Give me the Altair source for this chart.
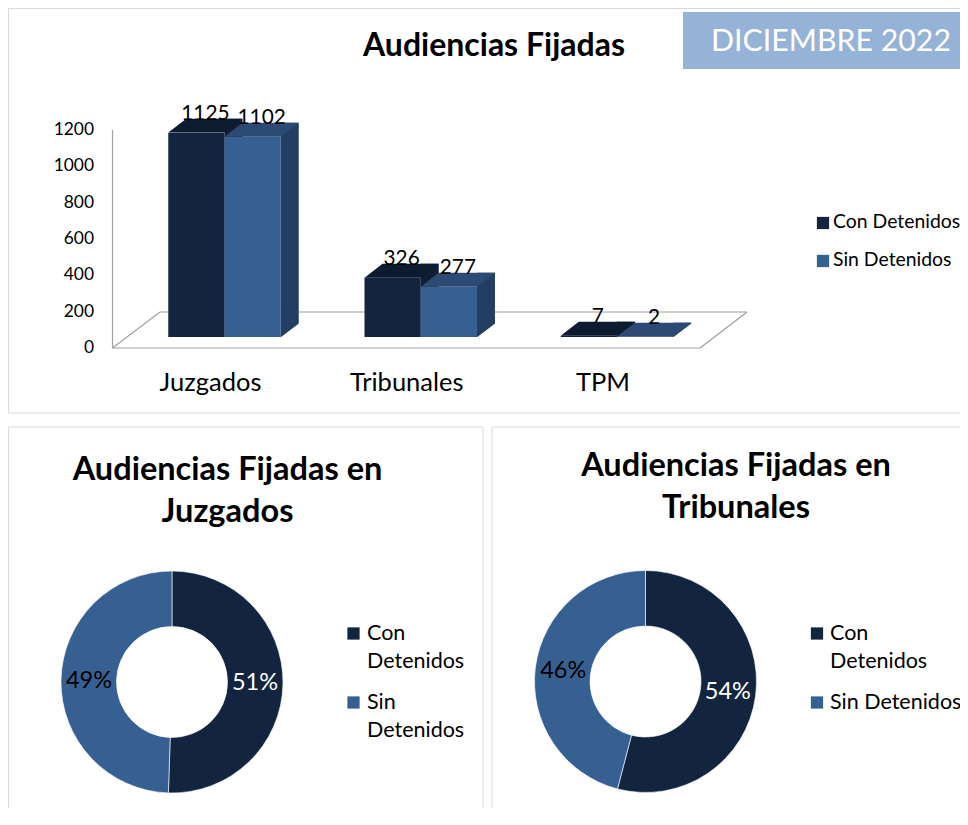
import altair as alt
import pandas as pd

# ---------------- data ----------------
categories = ["Juzgados", "Tribunales", "TPM"]
series_names = ["Con Detenidos", "Sin Detenidos"]
con_values = [1125, 326, 7]
sin_values = [1102, 277, 2]
y_ticks = [0, 200, 400, 600, 800, 1000, 1200]
main_title = "Audiencias Fijadas"
badge_text = "DICIEMBRE 2022"
donut_title_lines = [["Audiencias Fijadas en", "Juzgados"],
                     ["Audiencias Fijadas en", "Tribunales"]]

# ---------------- styles ----------------
FONT = "Lato"
front_colors = ["#13243F", "#376092"]
top_colors = ["#0D1B31", "#2C4B74"]
side_colors = ["#0F1E35", "#233E60"]
border_col = "#D9D9D9"
floor_col = "#A0A0A0"

rows = []
for i, c in enumerate(categories):
    rows.append({"cat": c, "series": series_names[0], "value": con_values[i]})
    rows.append({"cat": c, "series": series_names[1], "value": sin_values[i]})
bars = pd.DataFrame(rows)

X0, X1 = 118.4, 707.1
STEP = (X1 - X0) / 3
W = STEP * (1 - 0.4268) / 2        # width of one front face
D, E, BASE = 18, 14, -11           # depth offsets of the 3D look

xscale = alt.Scale(domain=categories, range=[X0, X1], paddingInner=0.4268, paddingOuter=0.2134)
yscale = alt.Scale(domain=[0, 1200], range=[340, 122], nice=False, zero=True)
offscale = alt.Scale(domain=series_names)
cscale = alt.Scale(domain=series_names, range=front_colors)

XENC = alt.X("cat:N", scale=xscale, axis=None)
YENC = alt.Y("value:Q", scale=yscale, axis=None)
OFFENC = alt.XOffset("series:N", scale=offscale)


def txt(s, x, y, size, weight="normal", color="black", align="left", baseline="middle"):
    return alt.Chart(pd.DataFrame({"t": [s]})).mark_text(
        font=FONT, fontSize=size, fontWeight=weight, color=color, align=align, baseline=baseline
    ).encode(text="t:N", x=alt.value(x), y=alt.value(y))


def box(x, x2, y, y2, fill=None, stroke=None):
    kw = {}
    if fill:
        kw["fill"] = fill
    else:
        kw["fillOpacity"] = 0
    if stroke:
        kw["stroke"] = stroke
        kw["strokeWidth"] = 1
    return alt.Chart(pd.DataFrame({"a": [0]})).mark_rect(**kw).encode(
        x=alt.value(x), x2=alt.value(x2), y=alt.value(y), y2=alt.value(y2))


def line(x, x2, y, y2, color=floor_col, w=1.2):
    return alt.Chart(pd.DataFrame({"a": [0]})).mark_rule(color=color, strokeWidth=w).encode(
        x=alt.value(x), x2=alt.value(x2), y=alt.value(y), y2=alt.value(y2))


def fmt(v):
    return f"{v:.3f}"


# parallelogram top face path (unit box -1..1), size S^2
S_TOP = 76
h = S_TOP / 2
top_path = ("M {} {} L {} {} L {} {} L {} {} Z".format(
    fmt((-W / 2 - D / 2) / h), fmt((E / 2) / h),
    fmt((W / 2 - D / 2) / h), fmt((E / 2) / h),
    fmt((W / 2 + D / 2) / h), fmt((-E / 2) / h),
    fmt((-W / 2 + D / 2) / h), fmt((-E / 2) / h)))
S_MASK = 20
hm = S_MASK / 2
mask_path = "M {} {} L {} {} L {} {} Z".format(
    fmt(-D / 2 / hm), fmt(E / 2 / hm + 0.03), fmt(D / 2 / hm + 0.08), fmt(E / 2 / hm + 0.03),
    fmt(D / 2 / hm + 0.08), fmt(-E / 2 / hm))

layers = []

# panel borders
layers.append(box(0.5, 990, 0.5, 405, stroke=border_col))
layers.append(box(0.5, 475, 419, 990, stroke=border_col))
layers.append(box(484, 990, 419, 990, stroke=border_col))

# badge
layers.append(box(675, 990, 4, 61, fill="#95B3D7"))
layers.append(txt(badge_text, 823, 34, 30.3, color="white", align="center"))

# main title
layers.append(txt(main_title, 486, 38, 32, weight="bold", align="center"))

# floor and wall
layers.append(line(104.5, 104.5, 122, 340))
layers.append(line(104.5, 692, 340, 340))
layers.append(line(152, 739, 304, 304))
layers.append(line(104.5, 152, 340, 304))
layers.append(line(692, 739, 340, 304))

# tick labels
layers.append(alt.Chart(pd.DataFrame({"t": y_ticks})).mark_text(
    font=FONT, fontSize=17.4, align="right", baseline="middle", color="black"
).encode(y=alt.Y("t:Q", scale=yscale, axis=None), x=alt.value(86), text="t:Q"))

# 3D bars
for k, s in enumerate(series_names):
    shift = (k - 0.5) * W
    src = alt.Chart(bars).transform_filter(alt.datum.series == s)
    # side face (a thick rule beside the front face)
    layers.append(src.mark_rule(strokeWidth=D, strokeCap="butt", xOffset=shift + W / 2 + D / 2,
                                yOffset=BASE - E, y2Offset=BASE, color=side_colors[k]
                                ).encode(x=XENC, y=YENC, y2=alt.datum(0)))
    layers.append(src.mark_point(shape=mask_path, size=S_MASK ** 2, filled=True, opacity=1,
                                 color="white", xOffset=shift + W / 2 + D / 2, yOffset=BASE - E / 2
                                 ).encode(x=XENC, y=alt.Y(datum=0, scale=yscale, axis=None)))
    layers.append(src.mark_bar(yOffset=BASE, y2Offset=BASE, color=front_colors[k]).encode(
        x=XENC, xOffset=OFFENC, y=YENC, y2=alt.datum(0)))
    layers.append(src.mark_point(shape=top_path, size=S_TOP ** 2, filled=True, opacity=1,
                                 color=top_colors[k], xOffset=shift + D / 2, yOffset=BASE - E / 2
                                 ).encode(x=XENC, y=YENC))

# value labels
layers.append(alt.Chart(bars).mark_text(
    font=FONT, fontSize=20.8, dx=9, dy=BASE - E + 1, baseline="alphabetic", color="black"
).encode(x=XENC, xOffset=OFFENC, y=YENC, text="value:Q"))

# category labels
layers.append(alt.Chart(pd.DataFrame({"cat": categories})).mark_text(
    font=FONT, fontSize=25.5, dx=-14, baseline="middle", color="black"
).encode(x=XENC, y=alt.value(375), text="cat:N"))

# top legend
for k, s in enumerate(series_names):
    yy = 215 + 38 * k
    layers.append(alt.Chart(pd.DataFrame({"series": [s]})).mark_square(size=150, opacity=1).encode(
        x=alt.value(815), y=alt.value(yy), color=alt.Color("series:N", scale=cscale, legend=None)))
    layers.append(txt(s, 825, yy - 1, 19.4))

# donuts
centers = [(164, 674), (637.5, 673.5)]
legend_x = [(345.5, 359), (809, 822)]
title_x = [219.5, 728]
title_y = [(462, 504), (457.5, 499.5)]
legend_lines = [[["Con", "Detenidos"], ["Sin", "Detenidos"]],
                [["Con", "Detenidos"], ["Sin Detenidos"]]]
for j in range(2):
    c = categories[j]
    cx, cy = centers[j]
    src = alt.Chart(bars).transform_filter(alt.datum.cat == c)
    layers.append(src.mark_arc(innerRadius=55.5, outerRadius=111, stroke="white", strokeWidth=0.6).encode(
        theta=alt.Theta("value:Q", stack="normalize"),
        color=alt.Color("series:N", scale=cscale, legend=None),
        order=alt.Order("series:N", sort="ascending"),
        x=alt.value(cx), y=alt.value(cy)))
    layers.append(src.transform_joinaggregate(total="sum(value)").transform_calculate(
        pct="format(datum.value / datum.total, '.0%')"
    ).mark_text(font=FONT, fontSize=23.5, radius=83, baseline="middle", align="center").encode(
        theta=alt.Theta("value:Q", stack="normalize"),
        order=alt.Order("series:N", sort="ascending"),
        text="pct:N",
        color=alt.condition(alt.datum.series == series_names[0], alt.value("white"), alt.value("black")),
        x=alt.value(cx), y=alt.value(cy)))
    for li, ln in enumerate(donut_title_lines[j]):
        layers.append(txt(ln, title_x[j], title_y[j][li], 32.5, weight="bold", align="center"))
    sx, tx = legend_x[j]
    for k, s in enumerate(series_names):
        yy = 625.5 + 69 * k
        layers.append(alt.Chart(pd.DataFrame({"series": [s]})).mark_square(size=150, opacity=1).encode(
            x=alt.value(sx), y=alt.value(yy), color=alt.Color("series:N", scale=cscale, legend=None)))
        for li, ln in enumerate(legend_lines[j][k]):
            layers.append(txt(ln, tx, yy + 28 * li, 21.5))

chart = alt.layer(*layers).properties(
    width=952, height=800, padding=0, autosize=alt.AutoSizeParams(type="none"), background="white"
).configure_view(stroke=None)

chart.save("out.html", embed_options={"renderer": "svg", "actions": False})
